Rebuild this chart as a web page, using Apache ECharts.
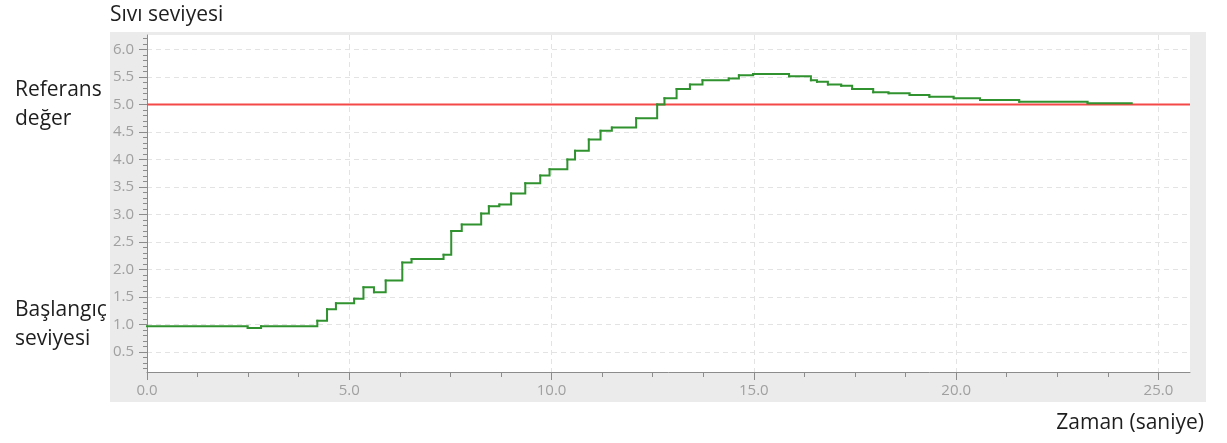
<!DOCTYPE html>
<html>
<head>
<meta charset="utf-8">
<script src="https://cdn.jsdelivr.net/npm/echarts@6/dist/echarts.min.js"></script>
<style>
html,body{margin:0;padding:0;background:#fff;}
#chart{width:1227px;height:443px;}
</style>
</head>
<body>
<div id="chart"></div>
<script>
// Time (s) at which the level changes to the value in `levels`
const times = [0, 2.49, 2.82, 4.21, 4.45, 4.67, 5.12, 5.35, 5.61, 5.90, 6.31, 6.54, 7.33, 7.52, 7.78, 8.26, 8.45, 8.71, 9.00, 9.35, 9.72, 9.95, 10.39, 10.58, 10.92, 11.21, 11.49, 12.09, 12.61, 12.79, 13.09, 13.42, 13.73, 14.38, 14.63, 14.98, 15.87, 16.41, 16.56, 16.83, 17.16, 17.43, 17.95, 18.33, 18.85, 19.34, 19.94, 20.59, 21.56, 23.25, 24.34];
const levels = [0.97, 0.94, 0.97, 1.07, 1.28, 1.39, 1.47, 1.68, 1.59, 1.80, 2.13, 2.19, 2.27, 2.70, 2.82, 3.02, 3.15, 3.18, 3.38, 3.57, 3.71, 3.82, 4.00, 4.16, 4.36, 4.52, 4.58, 4.75, 5.00, 5.11, 5.28, 5.36, 5.44, 5.47, 5.53, 5.55, 5.51, 5.44, 5.41, 5.36, 5.34, 5.28, 5.22, 5.20, 5.17, 5.14, 5.11, 5.08, 5.05, 5.02, 5.02];
const referenceLevel = 5.0;
const startLevel = 1.0;
const xTicks = [0, 5, 10, 15, 20, 25];
const yTicks = [0.5, 1.0, 1.5, 2.0, 2.5, 3.0, 3.5, 4.0, 4.5, 5.0, 5.5, 6.0];
const yLabelTexts = {"5": "Referans\ndeğer", "1": "Başlangıç\nseviyesi"};
const yTitle = "Sıvı seviyesi";
const xTitle = "Zaman (saniye)";

const X_MIN = 0, X_MAX = 25.78, Y_MIN = 0.14, Y_MAX = 6.26;
const xMinor = [];
for (let i = 0; i * 1.25 <= 25.0001; i++) xMinor.push(+(i * 1.25).toFixed(2));
const yMinor = [];
for (let i = 2; i <= 62; i++) yMinor.push(+(i * 0.1).toFixed(1));

// step segments: [t_i, v_i, t_{i+1}, v_{i+1}]
const stepData = [];
for (let i = 0; i < times.length - 1; i++) {
  stepData.push([times[i], levels[i], times[i + 1], levels[i + 1]]);
}

const FONT = '"Open Sans", "Noto Sans", sans-serif';
const tickLabelStyle = {color: '#a0a0a0', fontSize: 15, fontFamily: FONT};
const axisLineStyle = {color: '#8c8c8c', width: 1};
const GREEN = '#2f922f';

const chart = echarts.init(document.getElementById('chart'), null, {renderer: 'canvas'});
chart.setOption({
  animation: false,
  backgroundColor: '#ffffff',
  graphic: [
    {type: 'rect', z: -10, silent: true, shape: {x: 110, y: 32, width: 1096, height: 370}, style: {fill: '#ebebeb'}},
    {type: 'text', x: 110, y: 15, style: {text: yTitle, fill: '#1e1e1e', font: '21px ' + FONT, verticalAlign: 'middle', align: 'left'}},
    {type: 'text', x: 1204, y: 423, style: {text: xTitle, fill: '#1e1e1e', font: '21px ' + FONT, verticalAlign: 'middle', align: 'right'}}
  ],
  grid: {left: 147, right: 37, top: 35, bottom: 71, show: true, backgroundColor: '#ffffff', borderWidth: 0, containLabel: false},
  xAxis: [
    {
      type: 'value', min: X_MIN, max: X_MAX,
      axisLine: {show: true, lineStyle: axisLineStyle},
      axisTick: {show: true, length: 8, lineStyle: axisLineStyle, customValues: xTicks},
      axisLabel: {customValues: xTicks, formatter: v => v.toFixed(1), margin: 11, ...tickLabelStyle},
      splitLine: {show: true, lineStyle: {color: '#e3e3e3', type: [5, 4], width: 1}}
    },
    {
      type: 'value', min: X_MIN, max: X_MAX, position: 'bottom',
      axisLine: {show: false},
      axisTick: {show: true, length: 5, lineStyle: axisLineStyle, customValues: xMinor},
      axisLabel: {show: false},
      splitLine: {show: false}
    }
  ],
  yAxis: [
    {
      type: 'value', min: Y_MIN, max: Y_MAX,
      axisLine: {show: true, lineStyle: axisLineStyle},
      axisTick: {show: true, length: 8, lineStyle: axisLineStyle, customValues: yTicks},
      axisLabel: {customValues: yTicks, formatter: v => v.toFixed(1), margin: 13, ...tickLabelStyle},
      splitLine: {show: true, lineStyle: {color: '#e3e3e3', type: [5, 4], width: 1}}
    },
    {
      type: 'value', min: Y_MIN, max: Y_MAX, position: 'left',
      axisLine: {show: false},
      axisTick: {show: true, length: 4, lineStyle: axisLineStyle, customValues: yMinor},
      axisLabel: {show: false},
      splitLine: {show: false}
    },
    {
      type: 'value', min: Y_MIN, max: Y_MAX, position: 'left',
      axisLine: {show: false},
      axisTick: {show: false, customValues: [startLevel, referenceLevel]},
      axisLabel: {
        customValues: [startLevel, referenceLevel],
        formatter: v => yLabelTexts[String(Math.round(v))] || '',
        align: 'left', margin: 132, color: '#1e1e1e', fontSize: 21, lineHeight: 29, fontFamily: FONT
      },
      splitLine: {show: false}
    }
  ],
  series: [
    {
      type: 'line', xAxisIndex: 0, yAxisIndex: 0,
      data: [[X_MIN, referenceLevel], [X_MAX, referenceLevel]],
      showSymbol: false, symbol: 'none',
      lineStyle: {color: '#f44848', width: 2},
      z: 2, silent: true
    },
    {
      type: 'custom', xAxisIndex: 0, yAxisIndex: 0, z: 3,
      data: stepData,
      encode: {x: [0, 2], y: [1, 3]},
      renderItem: function (params, api) {
        const p0 = api.coord([api.value(0), api.value(1)]);
        const p1 = api.coord([api.value(2), api.value(1)]);
        const p2 = api.coord([api.value(2), api.value(3)]);
        return {
          type: 'polyline',
          shape: {points: [p0, p1, p2]},
          style: {stroke: GREEN, lineWidth: 2, fill: null, lineJoin: 'miter', lineCap: 'square'}
        };
      }
    }
  ]
});
</script>
</body>
</html>
